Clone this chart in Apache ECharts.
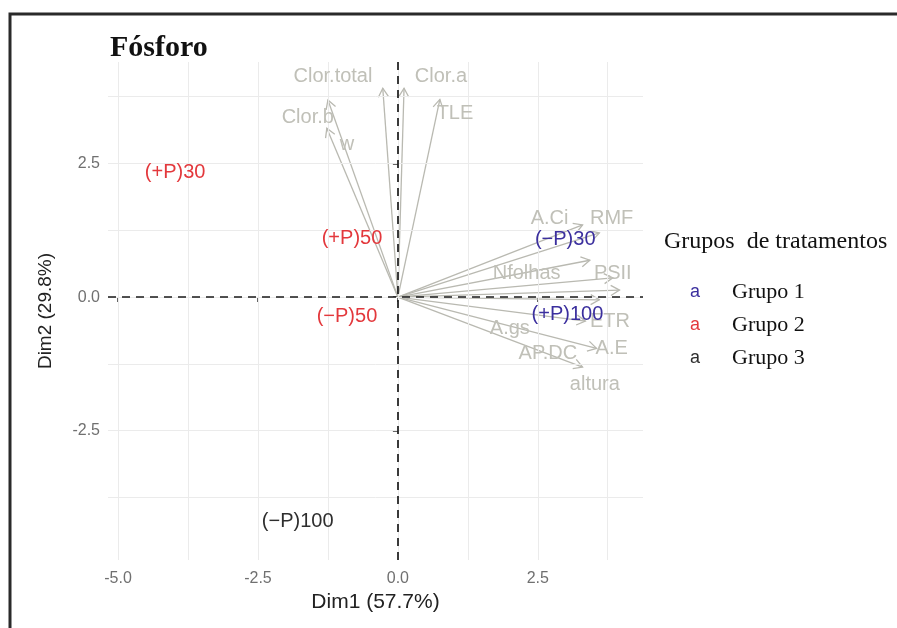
<!DOCTYPE html>
<html lang="pt">
<head>
  <meta charset="UTF-8">
  <title>Fósforo - biplot</title>
  <script src="https://cdn.jsdelivr.net/npm/echarts@6/dist/echarts.min.js"></script>
  <style>
    html, body { margin: 0; padding: 0; background: #fff; }
  </style>
</head>
<body>
  <div id="main" style="width: 897px;height:628px;"></div>
  <script type="text/javascript">
    // variáveis (setas)
    var varNames = ['Clor.total', 'Clor.a', 'Clor.b', 'w', 'TLE', 'A.Ci', 'RMF', 'Nfolhas', 'PSII', 'ETR', 'A.gs', 'AP.DC', 'A.E', 'altura'];
    var varX = [-0.27, 0.11, -1.25, -1.27, 0.75, 3.30, 3.60, 3.43, 3.84, 3.96, 3.60, 3.35, 3.55, 3.30];
    var varY = [3.91, 3.91, 3.69, 3.16, 3.70, 1.35, 1.20, 0.69, 0.36, 0.13, -0.05, -0.45, -0.96, -1.31];
    // posição dos rótulos das variáveis (coordenadas do gráfico)
    var varLabelX = [-1.16, 0.77, -1.61, -0.91, 1.02, 2.71, 3.82, 2.30, 3.84, 3.79, 2.00, 2.68, 3.82, 3.52];
    var varLabelY = [4.12, 4.12, 3.37, 2.86, 3.43, 1.48, 1.48, 0.45, 0.45, -0.45, -0.58, -1.05, -0.96, -1.63];

    // tratamentos por grupo
    var grupo1Nomes = ['(\u2212P)30', '(+P)100'];
    var grupo1X = [2.99, 3.03];
    var grupo1Y = [1.07, -0.33];
    var grupo2Nomes = ['(+P)30', '(+P)50', '(\u2212P)50'];
    var grupo2X = [-3.98, -0.82, -0.91];
    var grupo2Y = [2.34, 1.10, -0.36];
    var grupo3Nomes = ['(\u2212P)100'];
    var grupo3X = [-1.79];
    var grupo3Y = [-4.19];

    var grupos = ['Grupo 1', 'Grupo 2', 'Grupo 3'];
    var coresGrupo = ['#3b2f9e', '#e3383c', '#2e2e2e'];

    // eixos
    var xTicks = [-5.0, -2.5, 0.0, 2.5];
    var yTicks = [-2.5, 0.0, 2.5];
    var xGrade = [-5.0, -3.75, -2.5, -1.25, 0, 1.25, 2.5, 3.75];
    var yGrade = [-3.75, -2.5, -1.25, 0, 1.25, 2.5, 3.75];

    var myChart = echarts.init(document.getElementById('main'));

    var corVar = '#b9b9b1';
    var corTexto = '#c0c0b8';

    function pontos(nomes, xs, ys) {
      return nomes.map(function (n, i) { return [xs[i], ys[i], n]; });
    }

    function serieGrupo(i, nomes, xs, ys) {
      return {
        name: grupos[i],
        type: 'scatter',
        symbolSize: 0,
        z: 6,
        itemStyle: { color: coresGrupo[i], opacity: 1 },
        data: pontos(nomes, xs, ys),
        label: {
          show: true,
          position: 'inside',
          formatter: function (p) { return p.data[2]; },
          color: coresGrupo[i],
          opacity: 1,
          fontFamily: 'Liberation Sans',
          fontSize: 20
        },
        emphasis: { disabled: true }
      };
    }

    var option = {
      animation: false,
      backgroundColor: '#fff',
      title: [{
        text: 'Fósforo',
        left: 110, top: 33, padding: 0,
        textStyle: { fontFamily: 'Liberation Serif', fontWeight: 'bold', fontSize: 30, color: '#111' }
      }, {
        text: 'Grupos  de tratamentos',
        left: 664, top: 230, padding: 0,
        textStyle: { fontFamily: 'Liberation Serif', fontWeight: 'normal', fontSize: 24, color: '#111' }
      }],
      legend: {
        orient: 'vertical',
        left: 685, top: 281,
        itemWidth: 0, itemHeight: 0,
        itemGap: 11,
        padding: 0,
        data: grupos,
        formatter: function (name) {
          var i = grupos.indexOf(name);
          return '{g' + i + '|a}{t|' + name + '}';
        },
        textStyle: {
          rich: {
            g0: { color: coresGrupo[0], fontFamily: 'Liberation Sans', fontSize: 18, width: 42 },
            g1: { color: coresGrupo[1], fontFamily: 'Liberation Sans', fontSize: 18, width: 42 },
            g2: { color: coresGrupo[2], fontFamily: 'Liberation Sans', fontSize: 18, width: 42 },
            t: { color: '#111', fontFamily: 'Liberation Serif', fontSize: 22, lineHeight: 24 }
          }
        },
        selectedMode: false
      },
      grid: { left: 108, right: 254, top: 62, bottom: 68, outerBoundsMode: 'none' },
      xAxis: {
        type: 'value',
        min: -5.18, max: 4.38,
        name: 'Dim1 (57.7%)',
        nameLocation: 'middle',
        nameGap: 23,
        nameTextStyle: { fontFamily: 'Liberation Sans', fontSize: 21, color: '#222' },
        axisLine: { show: false },
        axisTick: { show: true, length: 5, customValues: xTicks, lineStyle: { color: '#333', width: 1.5 } },
        axisLabel: {
          customValues: xTicks, margin: 11,
          formatter: function (v) { return v.toFixed(1); },
          fontFamily: 'Liberation Sans', fontSize: 16, color: '#707070'
        },
        splitLine: { show: false }
      },
      yAxis: {
        type: 'value',
        min: -4.92, max: 4.40,
        name: 'Dim2 (29.8%)',
        nameLocation: 'middle',
        nameGap: 53,
        nameTextStyle: { fontFamily: 'Liberation Sans', fontSize: 19, color: '#222' },
        axisLine: { show: false },
        axisTick: { show: true, length: 5, customValues: yTicks, lineStyle: { color: '#333', width: 1.5 } },
        axisLabel: {
          customValues: yTicks, margin: 8,
          formatter: function (v) { return v.toFixed(1); },
          fontFamily: 'Liberation Sans', fontSize: 16, color: '#707070'
        },
        splitLine: { show: false }
      },
      graphic: [{
        type: 'polyline',
        shape: { points: [[10, 628], [10, 14], [897, 14]] },
        style: { stroke: '#2a2a2a', lineWidth: 3, fill: null },
        silent: true
      }],
      series: [{
        // grade
        type: 'line',
        data: [],
        silent: true,
        z: 1,
        markLine: {
          silent: true,
          symbol: 'none',
          label: { show: false },
          lineStyle: { color: '#ebebeb', width: 1, type: 'solid' },
          data: xGrade.map(function (v) { return { xAxis: v }; })
            .concat(yGrade.map(function (v) { return { yAxis: v }; }))
        }
      }, {
        // linhas de referência tracejadas
        type: 'line',
        data: [],
        silent: true,
        z: 3,
        markLine: {
          silent: true,
          symbol: 'none',
          label: { show: false },
          lineStyle: { color: '#1a1a1a', width: 1.7, type: [8, 6] },
          data: [{ xAxis: 0 }, { yAxis: 0 }]
        }
      }, {
        // setas das variáveis
        type: 'custom',
        z: 4,
        silent: true,
        data: varNames.map(function (n, i) { return [varX[i], varY[i]]; }),
        renderItem: function (params, api) {
          var o = api.coord([0, 0]);
          var t = api.coord([api.value(0), api.value(1)]);
          var ang = Math.atan2(t[1] - o[1], t[0] - o[0]);
          var len = 10, a = Math.PI / 6;
          var p1 = [t[0] - len * Math.cos(ang - a), t[1] - len * Math.sin(ang - a)];
          var p2 = [t[0] - len * Math.cos(ang + a), t[1] - len * Math.sin(ang + a)];
          return {
            type: 'group',
            children: [{
              type: 'line',
              shape: { x1: o[0], y1: o[1], x2: t[0], y2: t[1] },
              style: { stroke: corVar, lineWidth: 1.3 }
            }, {
              type: 'polyline',
              shape: { points: [p1, t, p2] },
              style: { stroke: corVar, lineWidth: 1.3, fill: null }
            }]
          };
        }
      }, {
        // rótulos das variáveis
        type: 'scatter',
        symbolSize: 0,
        z: 5,
        silent: true,
        itemStyle: { opacity: 1 },
        data: varNames.map(function (n, i) { return [varLabelX[i], varLabelY[i], n]; }),
        label: {
          show: true,
          position: 'inside',
          formatter: function (p) { return p.data[2]; },
          color: corTexto,
          fontFamily: 'Liberation Sans',
          fontSize: 20
        }
      },
        serieGrupo(0, grupo1Nomes, grupo1X, grupo1Y),
        serieGrupo(1, grupo2Nomes, grupo2X, grupo2Y),
        serieGrupo(2, grupo3Nomes, grupo3X, grupo3Y)
      ]
    };

    myChart.setOption(option);
  </script>
</body>
</html>
